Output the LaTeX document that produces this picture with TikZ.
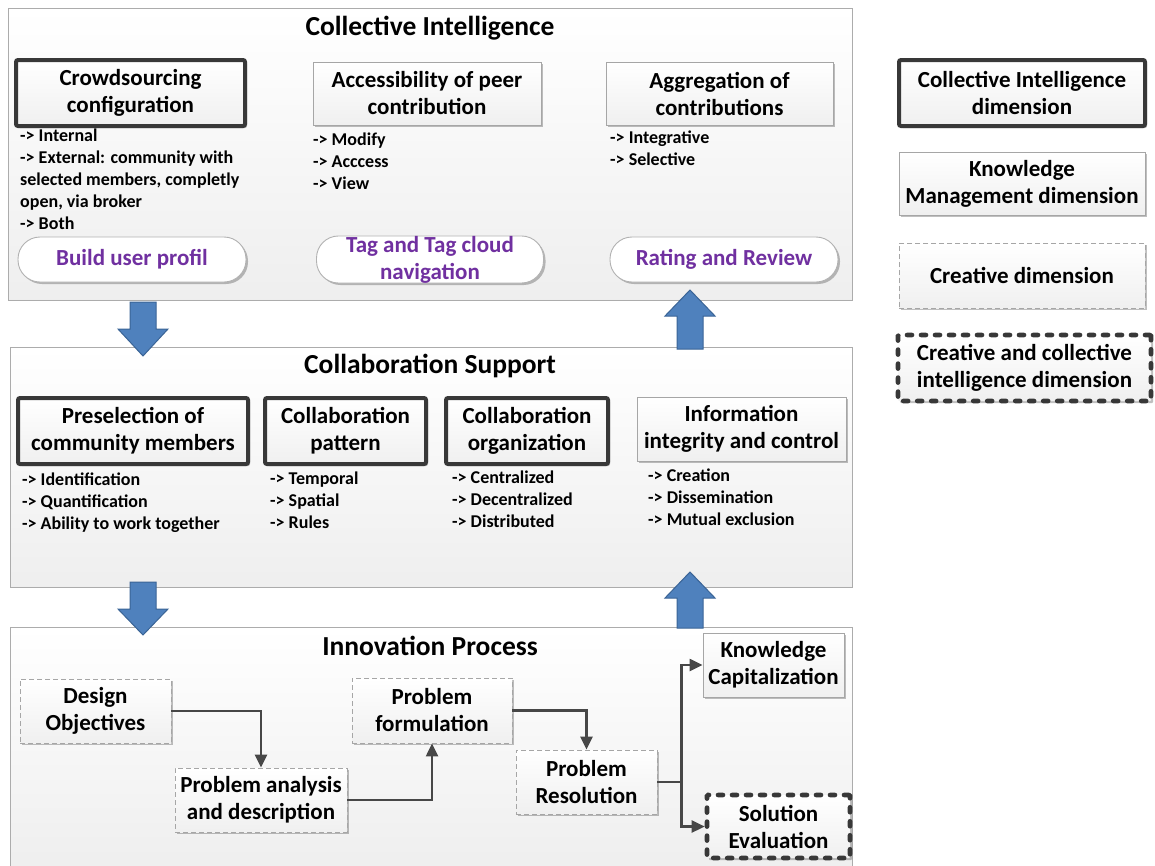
\documentclass[tikz,border=0pt]{standalone}
\usepackage{fontspec}
\setmainfont{Carlito}
\usetikzlibrary{shadows,calc,arrows.meta}
\definecolor{blfill}{HTML}{4F81BD}
\definecolor{bldraw}{HTML}{3A6496}
\definecolor{purp}{HTML}{7030A0}
\begin{document}
\begin{tikzpicture}[x=1pt,y=-1pt,
  panel/.style={draw=gray!65, line width=0.9pt, top color=white, bottom color=gray!13, inner sep=0pt},
  hdr/.style={font=\fontsize{27.5}{30}\selectfont\bfseries},
  boxtxt/.style={font=\fontsize{23}{27}\selectfont\bfseries, align=center, inner sep=0pt},
  shad/.style={drop shadow={shadow xshift=2pt, shadow yshift=-2pt, opacity=0.25, fill=black}},
  thickbox/.style={boxtxt, draw=black!78, line width=4pt, rounded corners=2pt, top color=white, bottom color=gray!12, shad},
  thinbox/.style={boxtxt, draw=gray!70, line width=0.9pt, top color=white, bottom color=gray!12, shad},
  dashbox/.style={thinbox, dash pattern=on 5pt off 3pt},
  thickdash/.style={thickbox, line width=4.6pt, rounded corners=1pt, dash pattern=on 5pt off 9pt, line cap=round},
  pill/.style={boxtxt, draw=gray!60, line width=0.9pt, rounded corners=22pt, fill=white, text=purp, shad},
  bul/.style={font=\fontsize{18}{22}\selectfont\bfseries, align=left, anchor=north west, inner sep=0pt},
  conn/.style={draw=black!72, line width=2.4pt, -{Triangle[length=13pt,width=12pt]}},
  bluearr/.style={fill=blfill, draw=bldraw, line width=1pt, line join=miter}
]
\useasboundingbox (0,0) rectangle (1155,865);

% ---------- panels ----------
\node[panel, minimum width=844pt, minimum height=292pt] (p1) at (430,154) {};
\node[panel, minimum width=842pt, minimum height=240pt] (p2) at (431,467) {};
\node[panel, minimum width=842pt, minimum height=240pt] (p3) at (431,747) {};

\node[hdr] (t1) at (430,28) {Collective Intelligence};
\node[hdr] (t2) at (430,366) {Collaboration Support};
\node[hdr] (t3) at (430,646) {Innovation Process};

% ---------- panel 1 ----------
\node[thickbox, minimum width=229pt, minimum height=66pt] (cc) at (130.5,93) {Crowdsourcing\\configuration};
\node[thinbox, minimum width=228pt, minimum height=63pt] (acc) at (427,93.5) {Accessibility of peer\\contribution};
\node[thinbox, minimum width=227pt, minimum height=63pt] (agg) at (719.5,93.5) {Aggregation of\\contributions};

\node[bul] (ccb) at (20,129) {-> Internal\\-> External: community with\\selected members, completly\\open, via broker\\-> Both};
\node[bul] (accb) at (313,133) {-> Modify\\-> Acccess\\-> View};
\node[bul] (aggb) at (610,131) {-> Integrative\\-> Selective};

\node[pill, minimum width=228pt, minimum height=45pt] (bup) at (132,259.5) {Build user profil};
\node[pill, minimum width=227pt, minimum height=45pt] (tag) at (430,259.5) {Tag and Tag cloud\\navigation};
\node[pill, minimum width=228pt, minimum height=45pt] (rr) at (724,259.5) {Rating and Review};

% ---------- legend ----------
\node[thickbox, minimum width=246pt, minimum height=66pt] (l1) at (1022,93) {Collective Intelligence\\dimension};
\node[thinbox, minimum width=246pt, minimum height=63pt] (l2) at (1022,183.5) {Knowledge\\Management dimension};
\node[dashbox, minimum width=246pt, minimum height=65pt] (l3) at (1022,275.5) {Creative dimension};
\node[thickdash, minimum width=253pt, minimum height=66pt] (l4) at (1024.5,368) {Creative and collective\\intelligence dimension};

% ---------- panel 2 ----------
\node[thickbox, minimum width=230pt, minimum height=66pt] (pre) at (133,431) {Preselection of\\community members};
\node[thickbox, minimum width=161pt, minimum height=66pt] (pat) at (345.5,431) {Collaboration\\pattern};
\node[thickbox, minimum width=162pt, minimum height=66pt] (org) at (527,431) {Collaboration\\organization};
\node[thinbox, minimum width=209pt, minimum height=64pt] (inf) at (741.5,429) {Information\\integrity and control};

\node[bul] (preb) at (22,473) {-> Identification\\-> Quantification\\-> Ability to work together};
\node[bul] (patb) at (270,472) {-> Temporal\\-> Spatial\\-> Rules};
\node[bul] (orgb) at (452,471) {-> Centralized\\-> Decentralized\\-> Distributed};
\node[bul] (infb) at (648,469) {-> Creation\\-> Dissemination\\-> Mutual exclusion};

% ---------- panel 3 ----------
\node[dashbox, minimum width=151pt, minimum height=64pt] (do) at (95.5,711) {Design\\Objectives};
\node[dashbox, minimum width=172pt, minimum height=64pt] (pa) at (261,800) {Problem analysis\\and description};
\node[dashbox, minimum width=160pt, minimum height=65pt] (pf) at (432,710.5) {Problem\\formulation};
\node[dashbox, minimum width=141pt, minimum height=64pt] (pr) at (586.5,782) {Problem\\Resolution};
\node[thinbox, minimum width=141pt, minimum height=64pt] (kc) at (773.5,665) {Knowledge\\Capitalization};
\node[thickdash, minimum width=143pt, minimum height=63pt] (se) at (778.5,826.5) {Solution\\Evaluation};

\draw[conn] (do.east) -| (pa.north);
\draw[conn] (pa.east) -| (pf.south);
\draw[conn] (pf.east) -| (pr.north);
\coordinate (j) at ($(pr.east)+(24,0)$);
\draw[draw=black!72, line width=2.4pt] (pr.east) -- (j);
\draw[conn] (j) |- (kc.west);
\draw[conn] (j) |- (se.west);

% ---------- block arrows ----------
\draw[bluearr] (130,302) -- (156,302) -- (156,329) -- (168,329) -- (143,356) -- (118,329) -- (130,329) -- cycle;
\draw[bluearr] (130,582) -- (156,582) -- (156,609) -- (168,609) -- (143,635) -- (118,609) -- (130,609) -- cycle;
\draw[bluearr] (677,349) -- (703,349) -- (703,316) -- (715,316) -- (690,290) -- (665,316) -- (677,316) -- cycle;
\draw[bluearr] (677,628) -- (703,628) -- (703,598) -- (715,598) -- (690,572) -- (665,598) -- (677,598) -- cycle;
\end{tikzpicture}
\end{document}
